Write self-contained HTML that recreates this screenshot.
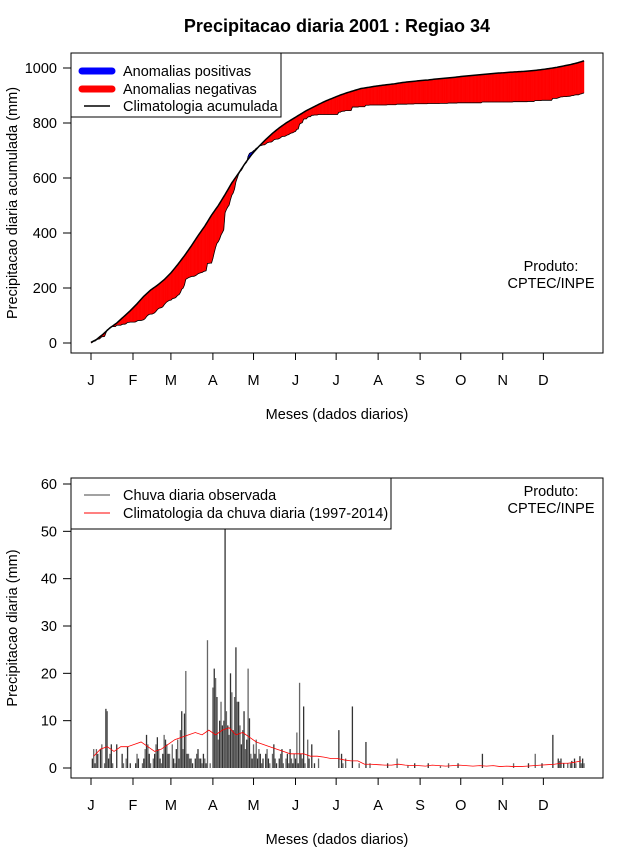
<!DOCTYPE html>
<html><head><meta charset="utf-8">
<style>
html,body{margin:0;padding:0;background:#fff;}
svg{display:block;font-family:"Liberation Sans",sans-serif;}
</style></head>
<body>
<svg id="chart" width="640" height="850" viewBox="0 0 640 850" xmlns="http://www.w3.org/2000/svg">
<text x="337" y="32" text-anchor="middle" font-size="18" font-weight="bold">Precipitacao diaria 2001 : Regiao 34</text>
<g id="top"></g>
<g id="bot"></g>
</svg>
<script>
const monthLabels = ["J","F","M","A","M","J","J","A","S","O","N","D"];
const monthStartDays = [1,32,60,91,121,152,182,213,244,274,305,335];
const topTicks = [0,200,400,600,800,1000];
const botTicks = [0,10,20,30,40,50,60];
const rainJan = [0,2,4,1,4,3,0,4,5,0,1,12.5,12,2,3,5,1,0,0,5,0,0,0,3,1,0,2,4.5,0,1,0];
const rainFeb = [0,0,1,3,2,0,0,1,2,4,7,5,3,1,0,2,3,5,6.5,4,2,1,3,7,6,5,3,3];
const rainMar = [0,5,2,1,4,6,2,8,12,4,11.5,20.5,3,3,2,2,1,0,2,3,4,2,2,1,3,2,1,27,0,1,0];
const rainApr = [17,21,19,15,6,10,14,9,10,62,12,9,7,20,16,8,15,25.5,14,14,9,5,8,12,4,6,21,10.5,3,2];
const rainMay = [5,3,6,2,4,3,1,2,0,3,4,2,1,0,3,5,2,1,0,2,3,4,1,0,2,3,1,4,2,1,3];
const rainJun = [2,7.5,1,18,3,2,13,1,0,6,2,0,5,0,1,0,0,2,0,0,0,0,0,0,0,0,0,0,0,0];
const rainJul = [0,0,8,0,3,1,0,2,0,0,0,0,13,0,0,0,0,1,0,0,0,0,5.5,0,0,1,0,0,0,0,0];
const rainAug = [0,0,0,0,0,0,0,1,0,0,0,0,0,0,2,0,0,0,0,0,0,0,0.5,0,0,0,0,1,0,0,0];
const rainSep = [0,0,0,0,0,0,1,0,0,0,0,0,0,0,0,0.5,0,0,0,0,0,1,0,0,0,0,0,0,1,0];
const rainOct = [0,0,0,0,0,0,0,0,0,0,0,0,0,0,0,0,3,0,0,0,0,0,0,0,0,0,0,0,0,0,0];
const rainNov = [0,0,0,0,0,0,0,0,1,0,0,0,0,0,0,0,0,0,0,1,0,0,0,0,3,0,0,0,0,1];
const rainDec = [0,0,0,0,0,0,0,7,0,0,0,2,1.5,2,0,1,0,0,1,0,1,1.5,0,2,1,0,0,2.5,1,2,1];
const climPentads = [2.5,4,4.5,3.5,4.5,4.5, 5,5.5,4.5,3.5,4,5, 6,6.5,7,7.5,7,8, 7,8,8.5,7,7.5,6.5,
 5.5,5,4.5,4,3.5,3, 3,3,2.5,2.5,2.3,2, 2,1.7,1.5,1.5,0.8,0.8, 0.7,0.6,0.6,0.8,0.6,0.5,
 0.5,0.4,0.6,0.5,0.4,0.5, 0.6,0.5,0.4,0.5,0.4,0.5, 0.3,0.4,0.3,0.3,0.4,0.5, 0.6,0.7,0.8,1,1,1.2,1.5];

const NS="http://www.w3.org/2000/svg";
function mk(p,tag,at,txt){const e=document.createElementNS(NS,tag);for(const k in at)e.setAttribute(k,at[k]);if(txt!==undefined)e.textContent=txt;p.appendChild(e);return e;}
const rain=[].concat(rainJan,rainFeb,rainMar,rainApr,rainMay,rainJun,rainJul,rainAug,rainSep,rainOct,rainNov,rainDec);
const clim=[];climPentads.forEach(v=>{for(let i=0;i<5;i++)clim.push(v);});
const N=rain.length;
const xd=d=>91+(d-1)*(493/364);
const yT=v=>343-v*0.275;
const yB=v=>768-v*(284/60);
const obsC=[],climC=[];let a=0,b=0;
for(let i=0;i<N;i++){a+=rain[i];b+=clim[i];obsC.push(a);climC.push(b);}

function axes(g,top,bot,yf,ticks,ytitle,name){
  const bx=mk(g,'rect',{x:71,y:top,width:532,height:bot-top,fill:'none',stroke:'#000','stroke-width':1});
  
  ticks.forEach(t=>{const y=yf(t);
    const l=mk(g,'line',{x1:63,x2:71,y1:y,y2:y,stroke:'#000'});
    
    const tx=mk(g,'text',{x:57,y:y+5,'text-anchor':'end','font-size':14.5},String(t));
    });
  monthStartDays.forEach((d,i)=>{const x=xd(d);
    const l=mk(g,'line',{x1:x,x2:x,y1:bot,y2:bot+7,stroke:'#000'});
    
    const tx=mk(g,'text',{x:x,y:bot+32,'text-anchor':'middle','font-size':14.5},monthLabels[i]);
    });
  const xt=mk(g,'text',{x:337,y:bot+66,'text-anchor':'middle','font-size':14.5},'Meses (dados diarios)');
  
  const cy=(top+bot)/2;
  const yt=mk(g,'text',{x:17,y:cy,'text-anchor':'middle','font-size':14.5,transform:'rotate(-90 17 '+cy+')'},ytitle);
  
}
function produto(g,y){
  const t1=mk(g,'text',{x:551,y:y,'text-anchor':'middle','font-size':14.5},'Produto:');
  
  const t2=mk(g,'text',{x:551,y:y+17,'text-anchor':'middle','font-size':14.5},'CPTEC/INPE');
  
}

// TOP
const T=document.getElementById('top');
for(let i=0;i<N-1;i++){
  const x1=xd(i+1),x2=xd(i+2);
  const col=(obsC[i]+obsC[i+1])>(climC[i]+climC[i+1])?'#0000ff':'#ff0000';
  const p=mk(T,'polygon',{points:`${x1},${yT(climC[i])} ${x2},${yT(climC[i+1])} ${x2},${yT(obsC[i+1])} ${x1},${yT(obsC[i])}`,fill:col,stroke:col,'stroke-width':0.4});
  
}
const op=mk(T,'polyline',{points:obsC.map((v,i)=>xd(i+1)+','+yT(v)).join(' '),fill:'none',stroke:'#000','stroke-width':0.8});

const cp=mk(T,'polyline',{points:climC.map((v,i)=>xd(i+1)+','+yT(v)).join(' '),fill:'none',stroke:'#000','stroke-width':1.5});

axes(T,53,353,yT,topTicks,'Precipitacao diaria acumulada (mm)','top');
const lg=mk(T,'g',{});
mk(lg,'rect',{x:71,y:53,width:210,height:64,fill:'#fff',stroke:'#000'});
mk(lg,'line',{x1:82,x2:112,y1:71,y2:71,stroke:'#0000ff','stroke-width':7,'stroke-linecap':'round'});
mk(lg,'line',{x1:82,x2:112,y1:89,y2:89,stroke:'#ff0000','stroke-width':7,'stroke-linecap':'round'});
mk(lg,'line',{x1:84,x2:110,y1:106,y2:106,stroke:'#000','stroke-width':1.5});
mk(lg,'text',{x:123,y:76,'font-size':14.5},'Anomalias positivas');
mk(lg,'text',{x:123,y:94,'font-size':14.5},'Anomalias negativas');
mk(lg,'text',{x:123,y:111,'font-size':14.5},'Climatologia acumulada');
produto(T,271);

// BOTTOM
const B=document.getElementById('bot');
mk(B,'clipPath',{id:'cb'}).appendChild(document.createElementNS(NS,'rect'));
const cr=B.querySelector('#cb rect');cr.setAttribute('x',71);cr.setAttribute('y',478);cr.setAttribute('width',532);cr.setAttribute('height',300);
const bars=mk(B,'g',{'clip-path':'url(#cb)'});

rain.forEach((v,i)=>{if(v<=0)return;const x=xd(i+1);
  const l=mk(bars,'line',{x1:x,x2:x,y1:yB(0),y2:yB(v),stroke:i%2?'#333':'#666','stroke-width':1.3});
  });
const cl=mk(B,'polyline',{points:climPentads.map((v,i)=>xd(i*5+3)+','+yB(v)).join(' '),fill:'none',stroke:'#ff0000','stroke-width':0.8});

axes(B,478,778,yB,botTicks,'Precipitacao diaria (mm)','bottom');
const lg2=mk(B,'g',{});
mk(lg2,'rect',{x:71,y:478,width:320,height:51,fill:'#fff',stroke:'#000'});
mk(lg2,'line',{x1:84,x2:110,y1:495,y2:495,stroke:'#444','stroke-width':1});
mk(lg2,'line',{x1:84,x2:110,y1:513,y2:513,stroke:'#ff0000','stroke-width':1});
mk(lg2,'text',{x:123,y:500,'font-size':14.5},'Chuva diaria observada');
mk(lg2,'text',{x:123,y:518,'font-size':14.5},'Climatologia da chuva diaria (1997-2014)');
produto(B,496);
</script>
</body></html>
